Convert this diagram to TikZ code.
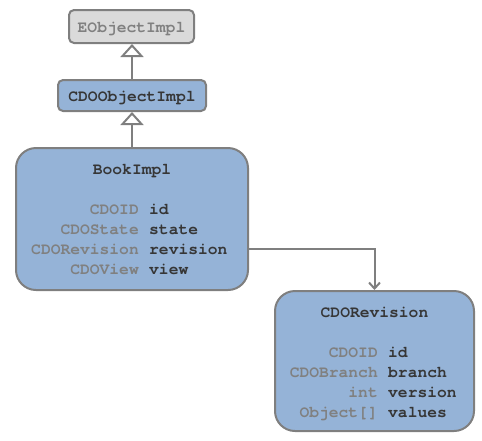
\documentclass[tikz,border=0pt]{standalone}
\usepackage{fontspec}
\setmonofont{TeX Gyre Cursor}
\usetikzlibrary{arrows.meta}
\definecolor{boxblue}{HTML}{95B3D7}
\definecolor{boxgray}{HTML}{DADADA}
\definecolor{edge}{HTML}{7F7F7F}
\definecolor{typegray}{HTML}{808080}
\definecolor{namedark}{HTML}{363636}
\tikzset{
  cls/.style={draw=edge, line width=2pt, fill=boxblue, inner sep=0pt},
  smallcls/.style={cls, rounded corners=5pt},
  bigcls/.style={cls, rounded corners=20pt},
  txt/.style={inner sep=0pt, font=\ttfamily\bfseries\fontsize{16.3}{20}\selectfont},
  typ/.style={txt, text=typegray, anchor=base east},
  fld/.style={txt, text=namedark, anchor=base west},
  ttl/.style={txt, text=namedark, anchor=base},
  inherit/.style={draw=edge, line width=2pt, -{Triangle[length=13pt,width=23pt,fill=white]}},
  assoc/.style={draw=edge, line width=2pt, -{Straight Barb[length=6pt,width=11pt]}},
}
\begin{document}
\begin{tikzpicture}[x=1pt,y=-1pt]
\useasboundingbox (0,0) rectangle (482,440);
% boxes
\node[smallcls, fill=boxgray, minimum width=125pt, minimum height=33pt] (eobj) at (131.5,26.5) {};
\node[ttl, text=typegray] (eobjt) at (131.5,32) {EObjectImpl};
\node[smallcls, minimum width=148pt, minimum height=31pt] (cdo) at (132,95.5) {};
\node[ttl] (cdot) at (132,101) {CDOObjectImpl};
\node[bigcls, minimum width=232pt, minimum height=142pt] (book) at (132,219) {};
\node[ttl] (bookt) at (132,174) {BookImpl};
\node[typ] (bt1) at (139,214) {CDOID};
\node[fld] (bf1) at (149,214) {id};
\node[typ] (bt2) at (139,234) {CDOState};
\node[fld] (bf2) at (149,234) {state};
\node[typ] (bt3) at (139,254) {CDORevision};
\node[fld] (bf3) at (149,254) {revision};
\node[typ] (bt4) at (139,274) {CDOView};
\node[fld] (bf4) at (149,274) {view};
\node[bigcls, minimum width=199pt, minimum height=140pt] (rev) at (374.5,361) {};
\node[ttl] (revt) at (374.5,317) {CDORevision};
\node[typ] (rt1) at (378,357) {CDOID};
\node[fld] (rf1) at (388,357) {id};
\node[typ] (rt2) at (378,377) {CDOBranch};
\node[fld] (rf2) at (388,377) {branch};
\node[typ] (rt3) at (378,397) {int};
\node[fld] (rf3) at (388,397) {version};
\node[typ] (rt4) at (378,417) {Object[]};
\node[fld] (rf4) at (388,417) {values};
% connectors
\draw[inherit] (cdo.north) -- (cdo.north |- eobj.south);
\draw[inherit] (book.north) -- (cdo.south);
\coordinate (revline) at (book.east |- 0,249);
\draw[assoc] (revline) -| (rev.north);
\end{tikzpicture}
\end{document}
